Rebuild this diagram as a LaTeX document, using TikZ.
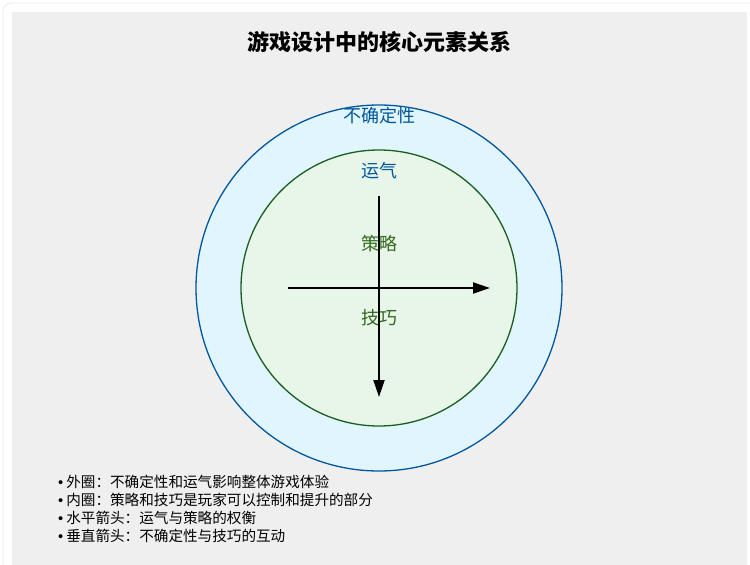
\documentclass[tikz,border=0pt]{standalone}
\usepackage{fontspec}
\setmainfont{Noto Sans CJK SC}
\newfontfamily\bulletfont{Liberation Sans}
\usetikzlibrary{arrows.meta}
\definecolor{panelbg}{HTML}{EFEFEF}
\definecolor{outerfill}{HTML}{E1F5FE}
\definecolor{outerline}{HTML}{01579B}
\definecolor{innerfill}{HTML}{E8F5E9}
\definecolor{innerline}{HTML}{1B5E20}
\definecolor{txtgreen}{HTML}{33691E}
\begin{document}
\begin{tikzpicture}[x=1pt,y=-1pt,
  lbl/.style={font=\fontsize{18}{20}\selectfont, inner sep=0pt},
  legend/.style={font=\fontsize{14.6}{16}\selectfont, anchor=west, inner sep=0pt},
  axis/.style={line width=2pt, -{Triangle[length=17pt,width=11pt]}}]
\useasboundingbox (0,0) rectangle (750,565);
\fill[white] (0,0) rectangle (750,565);
\draw[black!8, line width=0.8pt, rounded corners=8pt] (3,3) rectangle (760,575);
\fill[panelbg] (12,12) rectangle (747,565);
\node[font=\bfseries\fontsize{22}{24}\selectfont] (title) at (379,42) {游戏设计中的核心元素关系};
\node[circle, draw=outerline, fill=outerfill, line width=1.3pt, minimum size=366pt, inner sep=0pt] (outer) at (379,288) {};
\node[circle, draw=innerline, fill=innerfill, line width=1.3pt, minimum size=276pt, inner sep=0pt] (inner) at (379,288) {};
\node[lbl, text=outerline] (unc) at (379,116) {不确定性};
\node[lbl, text=outerline] (luck) at (379,171) {运气};
\node[lbl, text=txtgreen] (strat) at (379,244) {策略};
\node[lbl, text=txtgreen] (skill) at (379,318) {技巧};
\coordinate (hs) at (288,288);
\coordinate (he) at (490,288);
\coordinate (vs) at (379,196);
\coordinate (ve) at (379,397);
\draw[axis] (hs) -- (he);
\draw[axis] (vs) -- (ve);
\node[legend] (l1) at (58,482) {{\bulletfont •}\hspace{3pt}外圈：不确定性和运气影响整体游戏体验};
\node[legend] (l2) at (58,500) {{\bulletfont •}\hspace{3pt}内圈：策略和技巧是玩家可以控制和提升的部分};
\node[legend] (l3) at (58,518) {{\bulletfont •}\hspace{3pt}水平箭头：运气与策略的权衡};
\node[legend] (l4) at (58,536) {{\bulletfont •}\hspace{3pt}垂直箭头：不确定性与技巧的互动};
\end{tikzpicture}
\end{document}
